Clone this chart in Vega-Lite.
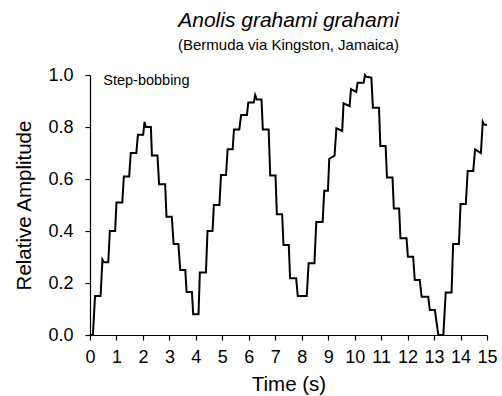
{
  "$schema": "https://vega.github.io/schema/vega-lite/v6.json",
  "width": 397,
  "height": 260,
  "autosize": {"type": "none"},
  "padding": {"left": 90, "top": 75, "right": 15, "bottom": 61},
  "background": "white",
  "config": {
    "font": "Liberation Sans",
    "view": {"stroke": null},
    "axis": {
      "grid": false,
      "domainColor": "black",
      "tickColor": "black",
      "labelColor": "black",
      "titleColor": "black",
      "domainWidth": 1.2,
      "tickWidth": 1.2,
      "tickSize": 5,
      "labelFont": "Liberation Sans",
      "titleFont": "Liberation Sans",
      "labelFontSize": 18,
      "titleFontSize": 20.5,
      "titleFontWeight": "normal"
    }
  },
  "title": {
    "text": "Anolis grahami grahami",
    "subtitle": "(Bermuda via Kingston, Jamaica)",
    "font": "Liberation Sans",
    "fontSize": 21,
    "fontStyle": "italic",
    "fontWeight": "normal",
    "color": "black",
    "subtitleFont": "Liberation Sans",
    "subtitleFontSize": 15,
    "subtitleColor": "black",
    "subtitlePadding": 7,
    "anchor": "middle",
    "offset": 13
  },
  "encoding": {
    "x": {
      "field": "t", "type": "quantitative",
      "scale": {"domain": [0, 15], "nice": false, "zero": false},
      "axis": {"title": "Time (s)", "values": [0,1,2,3,4,5,6,7,8,9,10,11,12,13,14,15], "format": "d", "labelPadding": 8, "titlePadding": 8, "labelFlush": false, "labelOverlap": false}
    },
    "y": {
      "field": "amp", "type": "quantitative",
      "scale": {"domain": [0, 1], "nice": false},
      "axis": {"title": "Relative Amplitude", "values": [0, 0.2, 0.4, 0.6, 0.8, 1.0], "format": ".1f", "labelPadding": 12, "titlePadding": 13, "labelFlush": false}
    }
  },
  "layer": [
    {
      "data": {
        "values": [
          {"t": 0.03, "amp": 0}, {"t": 0.11, "amp": 0}, {"t": 0.19, "amp": 0.15}, {"t": 0.40, "amp": 0.15},
          {"t": 0.47, "amp": 0.29}, {"t": 0.53, "amp": 0.28}, {"t": 0.69, "amp": 0.28}, {"t": 0.75, "amp": 0.40},
          {"t": 0.95, "amp": 0.40}, {"t": 1.00, "amp": 0.51}, {"t": 1.22, "amp": 0.51}, {"t": 1.28, "amp": 0.61},
          {"t": 1.48, "amp": 0.61}, {"t": 1.54, "amp": 0.70}, {"t": 1.75, "amp": 0.70}, {"t": 1.81, "amp": 0.77},
          {"t": 2.01, "amp": 0.77}, {"t": 2.06, "amp": 0.82}, {"t": 2.11, "amp": 0.80}, {"t": 2.30, "amp": 0.80},
          {"t": 2.34, "amp": 0.69}, {"t": 2.55, "amp": 0.69}, {"t": 2.61, "amp": 0.58}, {"t": 2.84, "amp": 0.58},
          {"t": 2.89, "amp": 0.455}, {"t": 3.09, "amp": 0.455}, {"t": 3.16, "amp": 0.35}, {"t": 3.34, "amp": 0.35},
          {"t": 3.41, "amp": 0.25}, {"t": 3.60, "amp": 0.25}, {"t": 3.65, "amp": 0.165}, {"t": 3.85, "amp": 0.165},
          {"t": 3.90, "amp": 0.08}, {"t": 4.10, "amp": 0.08}, {"t": 4.15, "amp": 0.24}, {"t": 4.38, "amp": 0.24},
          {"t": 4.44, "amp": 0.40}, {"t": 4.63, "amp": 0.40}, {"t": 4.68, "amp": 0.50}, {"t": 4.89, "amp": 0.50},
          {"t": 4.95, "amp": 0.615}, {"t": 5.14, "amp": 0.615}, {"t": 5.20, "amp": 0.714}, {"t": 5.39, "amp": 0.714},
          {"t": 5.44, "amp": 0.79}, {"t": 5.64, "amp": 0.79}, {"t": 5.71, "amp": 0.846}, {"t": 5.93, "amp": 0.846},
          {"t": 5.98, "amp": 0.894}, {"t": 6.19, "amp": 0.894}, {"t": 6.24, "amp": 0.923}, {"t": 6.30, "amp": 0.906},
          {"t": 6.48, "amp": 0.906}, {"t": 6.53, "amp": 0.79}, {"t": 6.75, "amp": 0.79}, {"t": 6.81, "amp": 0.613},
          {"t": 7.01, "amp": 0.613}, {"t": 7.06, "amp": 0.464}, {"t": 7.26, "amp": 0.464}, {"t": 7.31, "amp": 0.346},
          {"t": 7.51, "amp": 0.346}, {"t": 7.56, "amp": 0.218}, {"t": 7.79, "amp": 0.218}, {"t": 7.85, "amp": 0.15},
          {"t": 8.19, "amp": 0.15}, {"t": 8.26, "amp": 0.276}, {"t": 8.48, "amp": 0.276}, {"t": 8.55, "amp": 0.435},
          {"t": 8.79, "amp": 0.435}, {"t": 8.85, "amp": 0.555}, {"t": 8.99, "amp": 0.555}, {"t": 9.04, "amp": 0.678},
          {"t": 9.24, "amp": 0.69}, {"t": 9.31, "amp": 0.795}, {"t": 9.53, "amp": 0.785}, {"t": 9.58, "amp": 0.891},
          {"t": 9.81, "amp": 0.88}, {"t": 9.86, "amp": 0.946}, {"t": 10.06, "amp": 0.935}, {"t": 10.11, "amp": 0.97},
          {"t": 10.34, "amp": 0.97}, {"t": 10.39, "amp": 1.0}, {"t": 10.44, "amp": 0.993}, {"t": 10.63, "amp": 0.99},
          {"t": 10.69, "amp": 0.874}, {"t": 10.92, "amp": 0.874}, {"t": 10.97, "amp": 0.727}, {"t": 11.17, "amp": 0.727},
          {"t": 11.22, "amp": 0.606}, {"t": 11.43, "amp": 0.606}, {"t": 11.48, "amp": 0.487}, {"t": 11.68, "amp": 0.487},
          {"t": 11.73, "amp": 0.372}, {"t": 11.96, "amp": 0.372}, {"t": 12.01, "amp": 0.301}, {"t": 12.21, "amp": 0.301},
          {"t": 12.27, "amp": 0.212}, {"t": 12.46, "amp": 0.212}, {"t": 12.53, "amp": 0.147}, {"t": 12.78, "amp": 0.147},
          {"t": 12.84, "amp": 0.096}, {"t": 13.03, "amp": 0.096}, {"t": 13.16, "amp": 0.0}, {"t": 13.35, "amp": 0.0},
          {"t": 13.44, "amp": 0.163}, {"t": 13.66, "amp": 0.163}, {"t": 13.72, "amp": 0.35}, {"t": 13.94, "amp": 0.35},
          {"t": 14.00, "amp": 0.504}, {"t": 14.20, "amp": 0.504}, {"t": 14.27, "amp": 0.631}, {"t": 14.48, "amp": 0.631},
          {"t": 14.55, "amp": 0.714}, {"t": 14.77, "amp": 0.70}, {"t": 14.84, "amp": 0.82}, {"t": 14.89, "amp": 0.81},
          {"t": 15.00, "amp": 0.808}
        ]
      },
      "mark": {"type": "line", "color": "black", "strokeWidth": 2, "clip": false}
    },
    {
      "data": {"values": [{"t": 0.5, "amp": 0.96, "label": "Step-bobbing"}]},
      "mark": {"type": "text", "align": "left", "baseline": "alphabetic", "fontSize": 14.5, "font": "Liberation Sans", "color": "black"},
      "encoding": {
        "text": {"field": "label"}
      }
    }
  ]
}
